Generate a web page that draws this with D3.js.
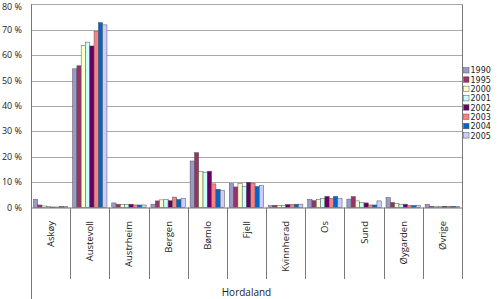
<!DOCTYPE html>
<html>
<head>
<meta charset="utf-8">
<script src="https://cdn.jsdelivr.net/npm/d3@7"></script>
<style>
  body { margin: 0; background: #fff; }
  svg text { font-family: "Open Sans", sans-serif; fill: #222; }
</style>
</head>
<body>
<div id="chart"></div>
<script>
// categories and series
const kommuner = ["Askøy", "Austevoll", "Austrheim", "Bergen", "Bømlo", "Fjell",
  "Kvinnherad", "Os", "Sund", "Øygarden", "Øvrige"];
const years = ["1990", "1995", "2000", "2001", "2002", "2003", "2004", "2005"];
const colors = ["#9999cc", "#993366", "#ffffcc", "#ccffff", "#660066", "#ff8080", "#0066cc", "#ccccff"];

// share (%) per kommune, one array per year
const v1990 = [3.2, 54.6, 1.8, 1.3, 18.3, 9.4, 0.7, 3.2, 3.3, 3.9, 1.2];
const v1995 = [1.0, 55.8, 1.3, 2.6, 21.6, 8.1, 0.9, 2.7, 4.3, 2.0, 0.5];
const v2000 = [0.6, 63.7, 1.2, 3.0, 14.1, 9.5, 0.8, 3.2, 2.6, 1.6, 0.5];
const v2001 = [0.4, 65.1, 1.2, 3.2, 13.9, 8.3, 0.8, 3.6, 2.0, 1.2, 0.5];
const v2002 = [0.2, 63.6, 1.3, 2.7, 14.3, 9.9, 1.2, 4.4, 1.8, 1.3, 0.5];
const v2003 = [0.2, 69.4, 1.0, 4.1, 9.3, 9.6, 1.2, 3.6, 1.0, 0.8, 0.5];
const v2004 = [0.4, 72.8, 1.0, 3.2, 7.2, 8.3, 1.3, 4.4, 1.0, 0.8, 0.5];
const v2005 = [0.4, 71.9, 1.0, 3.6, 6.8, 8.6, 1.3, 3.6, 2.6, 0.9, 0.5];
const series = [v1990, v1995, v2000, v2001, v2002, v2003, v2004, v2005];

const yTicks = [0, 10, 20, 30, 40, 50, 60, 70, 80];
const groupLabel = "Hordaland";

const W = 500, H = 299;
const plotL = 31, plotR = 462, plotT = 4.3, base = 207.5;

const svg = d3.select("#chart").append("svg")
  .attr("width", W).attr("height", H);

const y = d3.scaleLinear().domain([0, 80]).range([base, plotT]);
const x0 = d3.scaleBand().domain(kommuner).range([plotL, plotR]).padding(0);
const x1 = d3.scaleBand().domain(years).range([2.4, x0.bandwidth() - 2.4]).padding(0);

// gridlines
svg.append("g").selectAll("line")
  .data(yTicks.filter(d => d > 0))
  .enter().append("line")
  .attr("x1", plotL).attr("x2", plotR)
  .attr("y1", d => Math.round(y(d)) + 0.5).attr("y2", d => Math.round(y(d)) + 0.5)
  .attr("stroke", "#a8a8a8").attr("stroke-width", 1);

// y labels (top one pushed down so it stays inside)
svg.append("g").selectAll("text")
  .data(yTicks)
  .enter().append("text")
  .attr("x", 22).attr("y", d => Math.max(y(d) + 3, 10))
  .attr("text-anchor", "end")
  .style("font-size", "9px")
  .text(d => d + " %");

// bars
const rows = kommuner.map((k, i) => ({ k, vals: years.map((yr, j) => ({ yr, j, v: series[j][i] })) }));
const grp = svg.append("g").selectAll("g")
  .data(rows)
  .enter().append("g")
  .attr("transform", d => "translate(" + x0(d.k) + ",0)");

grp.selectAll("rect")
  .data(d => d.vals)
  .enter().append("rect")
  .attr("x", d => x1(d.yr))
  .attr("width", x1.bandwidth())
  .attr("y", d => y(d.v))
  .attr("height", d => base - y(d.v))
  .attr("fill", d => colors[d.j])
  .attr("stroke", "#555")
  .attr("stroke-width", 0.5);

// axes lines
const axis = svg.append("g").attr("stroke", "#777").attr("stroke-width", 1);
axis.append("line").attr("x1", plotL + 0.5).attr("x2", plotL + 0.5).attr("y1", plotT).attr("y2", H);
axis.append("line").attr("x1", plotL).attr("x2", plotR).attr("y1", base + 0.5).attr("y2", base + 0.5);
axis.append("line").attr("x1", plotR + 0.5).attr("x2", plotR + 0.5).attr("y1", plotT).attr("y2", 279);
axis.selectAll(".sep")
  .data(kommuner.slice(1))
  .enter().append("line")
  .attr("x1", d => Math.round(x0(d)) + 0.5).attr("x2", d => Math.round(x0(d)) + 0.5)
  .attr("y1", base).attr("y2", 279);

// category labels
svg.append("g").selectAll("text")
  .data(kommuner)
  .enter().append("text")
  .attr("transform", d => "translate(" + (x0(d) + x0.bandwidth() / 2 + 3.5) + ",221) rotate(-90)")
  .attr("text-anchor", "end")
  .style("font-size", "9.5px")
  .text(d => d);

svg.append("text")
  .attr("x", (plotL + plotR) / 2).attr("y", 296)
  .attr("text-anchor", "middle")
  .style("font-size", "10px")
  .text(groupLabel);

// legend
const leg = svg.append("g").selectAll("g")
  .data(years)
  .enter().append("g")
  .attr("transform", (d, i) => "translate(463," + (70.5 + i * 9.3) + ")");
leg.append("rect")
  .attr("x", 0.5).attr("y", -3).attr("width", 5.5).attr("height", 5.5)
  .attr("fill", (d, i) => colors[i]).attr("stroke", "#555").attr("stroke-width", 0.5);
leg.append("text")
  .attr("x", 7.5).attr("y", 2.9)
  .style("font-family", "'DejaVu Sans', sans-serif")
  .style("font-size", "8px")
  .text(d => d);
</script>
</body>
</html>
